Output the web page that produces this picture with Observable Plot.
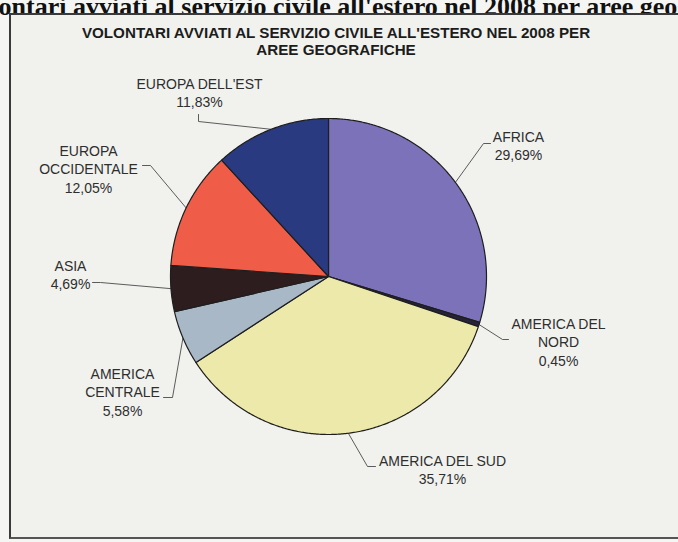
<!DOCTYPE html>
<html>
<head>
<meta charset="utf-8">
<script src="https://cdn.jsdelivr.net/npm/d3@7"></script>
<script src="https://cdn.jsdelivr.net/npm/@observablehq/plot@0.6"></script>
<style>
  html, body { margin: 0; padding: 0; }
  body { width: 678px; height: 542px; position: relative; overflow: hidden; background: #f5f6f3; font-family: "Liberation Sans", Arial, sans-serif; }
  #caption { position: absolute; left: -38px; top: -6px; white-space: nowrap; font-family: "Liberation Serif", "Times New Roman", serif; font-weight: bold; font-size: 26px; line-height: 1; color: #111; }
  #box { position: absolute; left: 9px; top: 13px; width: 700px; height: 522px; border-left: 2px solid #3a3a3a; border-top: 2px solid #3a3a3a; border-bottom: 2px solid #555; background: #f1f2ee; }
  #title { position: absolute; left: 0; top: 24px; width: 672px; text-align: center; font-weight: bold; font-size: 15.2px; line-height: 17px; color: #1c1c1c; letter-spacing: 0px; }
  #chart { position: absolute; left: 0; top: 0; }
</style>
</head>
<body>
<div id="caption">Volontari avviati al servizio civile all'estero nel 2008 per aree geografiche</div>
<div id="box"></div>
<div id="title">VOLONTARI AVVIATI AL SERVIZIO CIVILE ALL'ESTERO NEL 2008 PER<br>AREE GEOGRAFICHE</div>
<div id="chart"></div>
<script>
// ---- data ----
const categories = ["AFRICA", "AMERICA DEL NORD", "AMERICA DEL SUD", "AMERICA CENTRALE", "ASIA", "EUROPA OCCIDENTALE", "EUROPA DELL'EST"];
const labelTexts = ["AFRICA", "AMERICA DEL\nNORD", "AMERICA DEL SUD", "AMERICA\nCENTRALE", "ASIA", "EUROPA\nOCCIDENTALE", "EUROPA DELL'EST"];
const percentages = [29.69, 0.45, 35.71, 5.58, 4.69, 12.05, 11.83];
const colors = ["#7b72b9", "#26223a", "#ede9aa", "#a9b8c6", "#2e1d1f", "#ef5c47", "#293a80"];

// ---- layout (pixel space) ----
const W = 678, H = 542;
const cx = 328, cy = 276, R = 158;
// label anchor (x center, y cap-top), leader elbow and leader end
const labelPos = [
  {x: 518, y: 128, elbow: [483, 143], end: [490, 143]},
  {x: 558, y: 315, elbow: [502, 339], end: [508, 339]},
  {x: 442, y: 452, elbow: [367, 466], end: [375, 466]},
  {x: 122, y: 365, elbow: [172, 397], end: [163, 397]},
  {x: 70,  y: 257, elbow: [100, 282], end: [92, 282]},
  {x: 88,  y: 142, elbow: [150, 165], end: [142, 165]},
  {x: 199, y: 75,  elbow: [198, 121], end: [198, 114]}
];

const fmt = v => v.toFixed(2).replace(".", ",") + "%";

const pie = d3.pie().sort(null).value(d => d.value)(
  categories.map((c, i) => ({name: c, value: percentages[i], color: colors[i]}))
);

// slice polygons
const slicePts = [];
pie.forEach(a => {
  const n = Math.max(2, Math.ceil((a.endAngle - a.startAngle) / (Math.PI / 360)));
  slicePts.push({name: a.data.name, color: a.data.color, x: cx, y: cy});
  for (let k = 0; k <= n; k++) {
    const t = a.startAngle + (a.endAngle - a.startAngle) * k / n;
    slicePts.push({name: a.data.name, color: a.data.color, x: cx + R * Math.sin(t), y: cy - R * Math.cos(t)});
  }
});

// leader lines
const leaderPts = [];
pie.forEach((a, i) => {
  const m = (a.startAngle + a.endAngle) / 2;
  const L = labelPos[i];
  leaderPts.push({name: a.data.name, x: cx + R * Math.sin(m), y: cy - R * Math.cos(m)});
  leaderPts.push({name: a.data.name, x: L.elbow[0], y: L.elbow[1]});
  leaderPts.push({name: a.data.name, x: L.end[0], y: L.end[1]});
});

const labels = categories.map((c, i) => ({
  text: labelTexts[i] + "\n" + fmt(percentages[i]),
  x: labelPos[i].x, y: labelPos[i].y
}));

const chart = Plot.plot({
  width: W, height: H, margin: 0,
  x: {domain: [0, W], range: [0, W], axis: null},
  y: {domain: [0, H], range: [0, H], axis: null},
  style: {background: "transparent", overflow: "visible"},
  marks: [
    Plot.line(leaderPts, {x: "x", y: "y", z: "name", stroke: "#4a4a4a", strokeWidth: 0.9}),
    Plot.line(slicePts, {x: "x", y: "y", z: "name", fill: d => d.color, stroke: "#1e1e1e", strokeWidth: 1.2, curve: "linear-closed", strokeLinejoin: "round"}),
    Plot.text(labels, {x: "x", y: "y", text: "text", lineAnchor: "top", lineHeight: 1.32, fontSize: 14, fill: "#2e2e2e", fontFamily: "Liberation Sans, Arial, sans-serif", textAnchor: "middle", letterSpacing: -0.3})
  ]
});
document.getElementById("chart").appendChild(chart);
</script>
</body>
</html>
